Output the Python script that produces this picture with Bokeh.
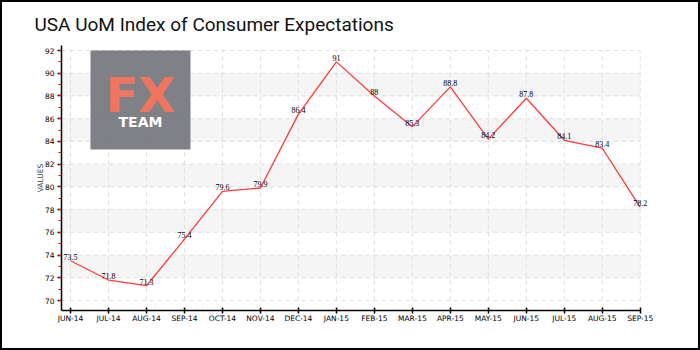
from bokeh.plotting import figure
from bokeh.models import (SingleIntervalTicker, FixedTicker, ColumnDataSource, BoxAnnotation,
                          Label, LabelSet, Node)
from bokeh.embed import file_html
from bokeh.resources import INLINE

months = ["JUN-14", "JUL-14", "AUG-14", "SEP-14", "OCT-14", "NOV-14", "DEC-14", "JAN-15",
          "FEB-15", "MAR-15", "APR-15", "MAY-15", "JUN-15", "JUL-15", "AUG-15", "SEP-15"]
values = [73.5, 71.8, 71.3, 75.4, 79.6, 79.9, 86.4, 91.0,
          88.0, 85.3, 88.8, 84.2, 87.8, 84.1, 83.4, 78.2]
y_min = 70
y_max = 92
y_tick_interval = 2
title_text = "USA UoM Index of Consumer Expectations"
y_axis_label = "VALUES"

xs = list(range(len(months)))
y_ticks = list(range(y_min, y_max + 1, y_tick_interval))
src = ColumnDataSource(dict(x=xs, y=values, lbl=[f"{v:g}" for v in values]))

X_START = -0.237
X_END = xs[-1] + 0.27
p = figure(width=700, height=350, output_backend="svg", toolbar_location=None,
           x_range=(X_START, X_END), y_range=(69.12, 92.44),
           min_border_left=61, min_border_right=50, min_border_top=45, min_border_bottom=40)
p.outline_line_color = None
p.background_fill_color = None
p.border_fill_color = None
p.styles = {"box-shadow": "inset 0 0 0 2px black", "background-color": "white"}

p.title.text = title_text
p.title.text_font = "Roboto"
p.title.text_font_size = "19px"
p.title.text_font_style = "normal"
p.title.text_color = "#111111"
p.title.offset = -27
p.title.standoff = 20

# axes
p.xaxis.ticker = FixedTicker(ticks=xs)
p.xaxis.major_label_overrides = {i: m for i, m in enumerate(months)}
p.xaxis.bounds = (X_START, xs[-1])
p.yaxis.ticker = SingleIntervalTicker(interval=y_tick_interval, num_minor_ticks=2)
for ax in (p.xaxis[0], p.yaxis[0]):
    ax.axis_line_color = "black"
    ax.axis_line_width = 1.5
    ax.major_tick_line_color = "black"
    ax.major_tick_line_width = 1.5
    ax.major_label_text_font = "DejaVu Sans"
    ax.major_label_text_font_size = "7.5px"
    ax.major_label_text_color = "black"
p.xaxis.major_tick_in = 3
p.xaxis.major_tick_out = 3
p.xaxis.minor_tick_line_color = None
p.xaxis.major_label_standoff = 0
p.yaxis.major_tick_in = 0
p.yaxis.major_tick_out = 4
p.yaxis.minor_tick_line_color = "red"
p.yaxis.minor_tick_in = 0
p.yaxis.minor_tick_out = 3
p.yaxis.major_label_standoff = 3
p.yaxis.axis_label = y_axis_label
p.yaxis.axis_label_text_font = "DejaVu Sans"
p.yaxis.axis_label_text_font_size = "7.5px"
p.yaxis.axis_label_text_font_style = "normal"
p.yaxis.axis_label_standoff = -3

# grids (drawn from the tick positions, limited to the data area)
p.xgrid.grid_line_color = None
p.ygrid.grid_line_color = None
for lo, hi in zip(y_ticks[1::2], y_ticks[2::2]):
    p.add_layout(BoxAnnotation(left=X_START, right=xs[-1], bottom=lo, top=hi,
                               fill_color="#f5f5f5", fill_alpha=1, line_color=None,
                               level="image"))
p.segment(x0=[X_START] * len(y_ticks), x1=[xs[-1]] * len(y_ticks), y0=y_ticks, y1=y_ticks,
          line_color="#dddddd", line_dash="4 4", line_width=1, level="underlay")
p.segment(x0=xs, x1=xs, y0=[y_min] * len(xs), y1=[y_max] * len(xs),
          line_color="#dddddd", line_dash="4 4", line_width=1, level="underlay")

# logo
logo = BoxAnnotation(left=0.526, right=3.158, top=92.0, bottom=83.29,
                     fill_color="#76767e", fill_alpha=0.93, line_color=None)
p.add_layout(logo)
p.add_layout(Label(x=1.842, y=88.1, text="FX", text_align="center", text_baseline="middle",
                   text_font="DejaVu Sans", text_font_size="48px", text_font_style="bold",
                   text_color="#f07560"))
p.add_layout(Label(x=1.842, y=85.75, text="TEAM", text_align="center", text_baseline="middle",
                   text_font="DejaVu Sans", text_font_size="14px", text_font_style="bold",
                   text_color="white"))

p.line("x", "y", source=src, line_color="#ff3b3b", line_width=1.3)
p.add_layout(LabelSet(x="x", y="y", text="lbl", source=src, text_align="center",
                      text_baseline="bottom", y_offset=1, text_font="DejaVu Sans",
                      text_font_size="8px", text_color="black"))

# outer border of the whole canvas
border = BoxAnnotation(left=Node(target="canvas", symbol="left"),
                       right=Node(target="canvas", symbol="right"),
                       top=Node(target="canvas", symbol="top"),
                       bottom=Node(target="canvas", symbol="bottom"),
                       fill_alpha=0, line_color="black", line_width=3)
p.add_layout(border)

open("out.html", "w").write(file_html(p, INLINE))
